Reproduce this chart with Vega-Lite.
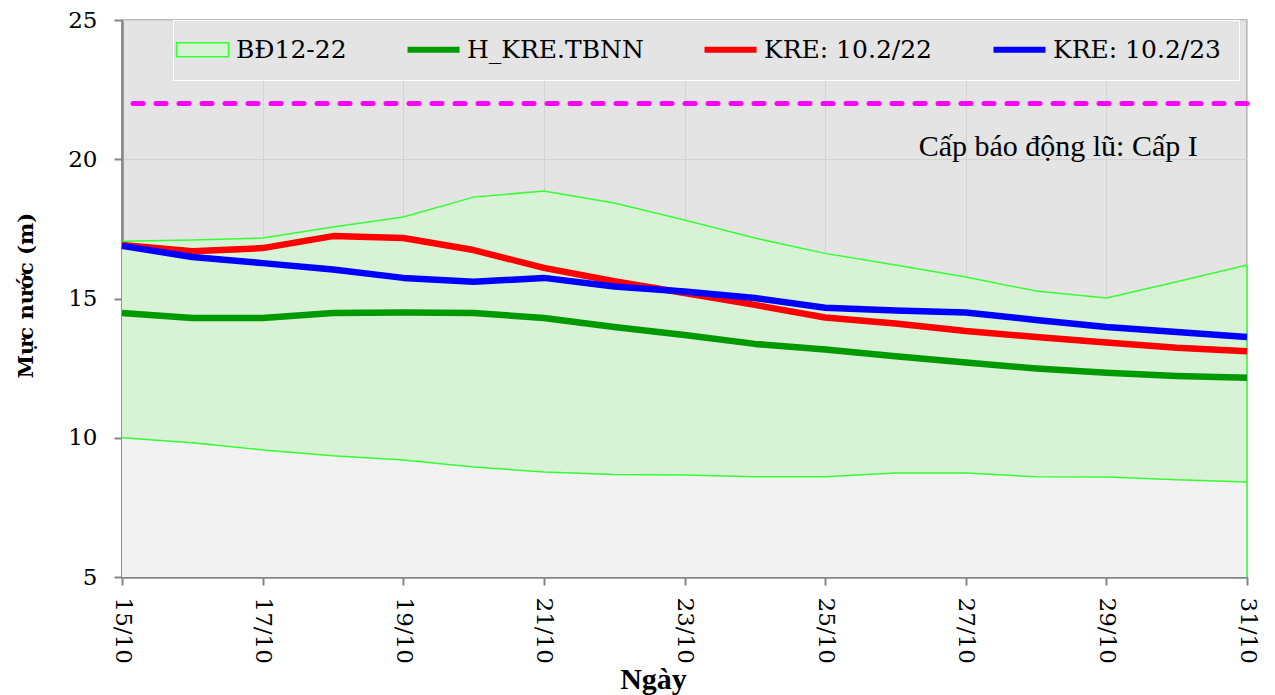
{
  "$schema": "https://vega.github.io/schema/vega-lite/v6.json",
  "width": 1125,
  "height": 557,
  "autosize": {"type": "none"},
  "padding": {"left": 122, "top": 20, "right": 28, "bottom": 118},
  "background": "#ffffff",
  "config": {
    "font": "Liberation Serif",
    "view": {"fill": "#e4e4e4", "stroke": "#a6a6a6", "strokeWidth": 1.5},
    "axis": {"labelColor": "#000000", "titleColor": "#000000", "domainColor": "#868686", "domainWidth": 2.5, "tickColor": "#868686", "tickWidth": 2, "tickSize": 8, "gridColor": "#d3d3d3", "gridWidth": 1},
    "text": {"font": "Liberation Serif"}
  },
  "datasets": {
    "band": [
      {"day": 15, "lo": 10.0, "hi": 17.06},
      {"day": 16, "lo": 9.82, "hi": 17.1},
      {"day": 17, "lo": 9.56, "hi": 17.17},
      {"day": 18, "lo": 9.35, "hi": 17.57},
      {"day": 19, "lo": 9.2, "hi": 17.93},
      {"day": 20, "lo": 8.95, "hi": 18.64},
      {"day": 21, "lo": 8.77, "hi": 18.86},
      {"day": 22, "lo": 8.68, "hi": 18.43},
      {"day": 23, "lo": 8.66, "hi": 17.82},
      {"day": 24, "lo": 8.6, "hi": 17.17},
      {"day": 25, "lo": 8.6, "hi": 16.62},
      {"day": 26, "lo": 8.73, "hi": 16.2},
      {"day": 27, "lo": 8.73, "hi": 15.77},
      {"day": 28, "lo": 8.6, "hi": 15.27},
      {"day": 29, "lo": 8.59, "hi": 15.02},
      {"day": 30, "lo": 8.49, "hi": 15.6},
      {"day": 31, "lo": 8.41, "hi": 16.2}
    ],
    "lines": [
      {"day": 15, "series": "H_KRE.TBNN", "value": 14.48},
      {"day": 16, "series": "H_KRE.TBNN", "value": 14.3},
      {"day": 17, "series": "H_KRE.TBNN", "value": 14.3},
      {"day": 18, "series": "H_KRE.TBNN", "value": 14.48},
      {"day": 19, "series": "H_KRE.TBNN", "value": 14.5},
      {"day": 20, "series": "H_KRE.TBNN", "value": 14.48},
      {"day": 21, "series": "H_KRE.TBNN", "value": 14.3},
      {"day": 22, "series": "H_KRE.TBNN", "value": 13.98},
      {"day": 23, "series": "H_KRE.TBNN", "value": 13.69},
      {"day": 24, "series": "H_KRE.TBNN", "value": 13.37},
      {"day": 25, "series": "H_KRE.TBNN", "value": 13.17},
      {"day": 26, "series": "H_KRE.TBNN", "value": 12.93},
      {"day": 27, "series": "H_KRE.TBNN", "value": 12.7},
      {"day": 28, "series": "H_KRE.TBNN", "value": 12.49},
      {"day": 29, "series": "H_KRE.TBNN", "value": 12.33},
      {"day": 30, "series": "H_KRE.TBNN", "value": 12.22},
      {"day": 31, "series": "H_KRE.TBNN", "value": 12.15},
      {"day": 15, "series": "KRE: 10.2/22", "value": 16.92},
      {"day": 16, "series": "KRE: 10.2/22", "value": 16.7},
      {"day": 17, "series": "KRE: 10.2/22", "value": 16.81},
      {"day": 18, "series": "KRE: 10.2/22", "value": 17.24},
      {"day": 19, "series": "KRE: 10.2/22", "value": 17.17},
      {"day": 20, "series": "KRE: 10.2/22", "value": 16.74},
      {"day": 21, "series": "KRE: 10.2/22", "value": 16.1},
      {"day": 22, "series": "KRE: 10.2/22", "value": 15.62},
      {"day": 23, "series": "KRE: 10.2/22", "value": 15.2},
      {"day": 24, "series": "KRE: 10.2/22", "value": 14.77},
      {"day": 25, "series": "KRE: 10.2/22", "value": 14.32},
      {"day": 26, "series": "KRE: 10.2/22", "value": 14.1},
      {"day": 27, "series": "KRE: 10.2/22", "value": 13.83},
      {"day": 28, "series": "KRE: 10.2/22", "value": 13.62},
      {"day": 29, "series": "KRE: 10.2/22", "value": 13.42},
      {"day": 30, "series": "KRE: 10.2/22", "value": 13.23},
      {"day": 31, "series": "KRE: 10.2/22", "value": 13.11},
      {"day": 15, "series": "KRE: 10.2/23", "value": 16.89},
      {"day": 16, "series": "KRE: 10.2/23", "value": 16.49},
      {"day": 17, "series": "KRE: 10.2/23", "value": 16.27},
      {"day": 18, "series": "KRE: 10.2/23", "value": 16.04},
      {"day": 19, "series": "KRE: 10.2/23", "value": 15.74},
      {"day": 20, "series": "KRE: 10.2/23", "value": 15.6},
      {"day": 21, "series": "KRE: 10.2/23", "value": 15.74},
      {"day": 22, "series": "KRE: 10.2/23", "value": 15.43},
      {"day": 23, "series": "KRE: 10.2/23", "value": 15.25},
      {"day": 24, "series": "KRE: 10.2/23", "value": 15.02},
      {"day": 25, "series": "KRE: 10.2/23", "value": 14.67},
      {"day": 26, "series": "KRE: 10.2/23", "value": 14.57},
      {"day": 27, "series": "KRE: 10.2/23", "value": 14.5},
      {"day": 28, "series": "KRE: 10.2/23", "value": 14.23},
      {"day": 29, "series": "KRE: 10.2/23", "value": 13.98},
      {"day": 30, "series": "KRE: 10.2/23", "value": 13.8},
      {"day": 31, "series": "KRE: 10.2/23", "value": 13.62}
    ],
    "alarm": [{"level": 22, "label": "Cấp báo động lũ: Cấp I"}]
  },
  "layer": [
    {
      "data": {"name": "band"},
      "mark": {"type": "area", "color": "#f2f2f2", "opacity": 1},
      "encoding": {
        "x": {"field": "day", "type": "quantitative", "scale": {"domain": [15, 31], "nice": false, "zero": false},
          "axis": {"values": [15, 17, 19, 21, 23, 25, 27, 29, 31], "labelExpr": "datum.value + '/10'", "labelAngle": 90, "labelAlign": "left", "labelBaseline": "middle", "labelPadding": 12, "labelFont": "DejaVu Serif", "labelFontSize": 23, "labelFlush": false, "labelOverlap": false, "labelBound": false, "grid": true, "title": "Ngày", "titleFont": "Liberation Serif", "titleFontSize": 30, "titleFontWeight": "bold", "titleX": 531, "titleY": 111, "titleAlign": "center", "titleBaseline": "alphabetic"}},
        "y": {"field": "lo", "type": "quantitative", "scale": {"domain": [5, 25], "nice": false, "zero": false},
          "axis": {"values": [5, 10, 15, 20, 25], "labelFont": "DejaVu Serif", "labelFontSize": 23, "labelPadding": 17, "grid": true, "title": "Mực nước (m)", "titleFont": "DejaVu Serif", "titleFontSize": 21, "titleFontWeight": "bold", "titleX": -90, "titleY": 275, "titleAlign": "center", "titleBaseline": "alphabetic", "titleAngle": -90}},
        "y2": {"datum": 5}
      }
    },
    {
      "data": {"name": "band"},
      "mark": {"type": "area", "color": "#d8f2d6", "opacity": 1},
      "encoding": {
        "x": {"field": "day", "type": "quantitative"},
        "y": {"field": "hi", "type": "quantitative"},
        "y2": {"field": "lo"}
      }
    },
    {
      "data": {"name": "band"},
      "mark": {"type": "line", "color": "#33ff33", "strokeWidth": 1.5},
      "encoding": {
        "x": {"field": "day", "type": "quantitative"},
        "y": {"field": "hi", "type": "quantitative"}
      }
    },
    {
      "data": {"name": "band"},
      "mark": {"type": "line", "color": "#33ff33", "strokeWidth": 1.5},
      "encoding": {
        "x": {"field": "day", "type": "quantitative"},
        "y": {"field": "lo", "type": "quantitative"}
      }
    },
    {
      "data": {"name": "band"},
      "transform": [{"filter": "datum.day == 31"}],
      "mark": {"type": "rule", "color": "#33ff33", "strokeWidth": 1.5},
      "encoding": {
        "x": {"field": "day", "type": "quantitative"},
        "y": {"field": "hi", "type": "quantitative"},
        "y2": {"datum": 5}
      }
    },
    {
      "data": {"name": "lines"},
      "mark": {"type": "line", "strokeWidth": 6.5, "strokeJoin": "round", "strokeCap": "butt"},
      "encoding": {
        "x": {"field": "day", "type": "quantitative"},
        "y": {"field": "value", "type": "quantitative"},
        "color": {"field": "series", "type": "nominal",
          "scale": {"domain": ["BĐ12-22", "H_KRE.TBNN", "KRE: 10.2/22", "KRE: 10.2/23"], "range": ["#33ff33", "#009900", "#ff0000", "#0000ff"]},
          "legend": {"orient": "none", "legendX": 51, "legendY": 0, "direction": "horizontal", "title": null,
            "fillColor": "#e4e4e4", "strokeColor": "#ffffff", "padding": 17,
            "labelFont": "DejaVu Serif", "labelFontSize": 25, "labelColor": "#000000", "labelOffset": 21, "columnPadding": 48, "labelLimit": 400,
            "symbolSize": 400, "symbolStrokeWidth": 6,
            "encode": {
              "symbols": {"update": {
              "shape": {"signal": "datum.value === 'BĐ12-22' ? 'M-2.6,-0.7H2.6V0.7H-2.6Z' : 'M-2.6,0H2.6'"},
              "fill": {"signal": "datum.value === 'BĐ12-22' ? '#d8f2d6' : 'transparent'"},
              "strokeWidth": {"signal": "datum.value === 'BĐ12-22' ? 1.5 : 6"},
              "stroke": {"signal": "scale('color', datum.value)"},
              "opacity": {"value": 1}
            }}}}
        }
      }
    },
    {
      "data": {"name": "alarm"},
      "mark": {"type": "rule", "color": "#ff00ff", "strokeWidth": 5, "strokeDash": [10, 13], "strokeCap": "round"},
      "encoding": {"y": {"field": "level", "type": "quantitative"}}
    },
    {
      "data": {"name": "alarm"},
      "mark": {"type": "text", "fontSize": 30, "align": "right", "baseline": "middle", "color": "#000000", "font": "Liberation Serif"},
      "encoding": {"text": {"field": "label"}, "x": {"datum": 30.3}, "y": {"datum": 20.45}}
    }
  ]
}
